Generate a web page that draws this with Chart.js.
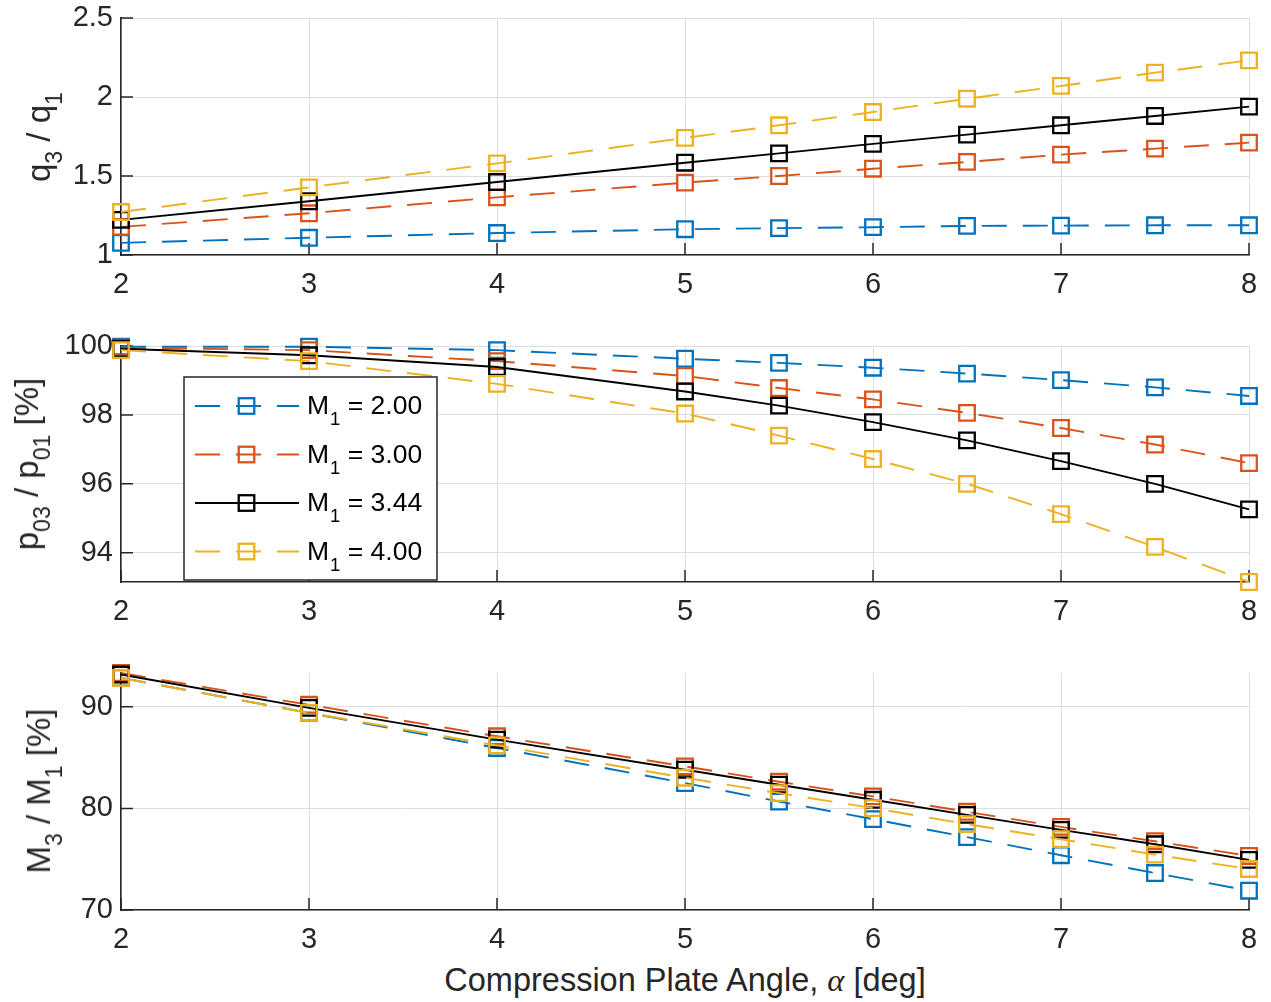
<!DOCTYPE html>
<html>
<head>
<meta charset="utf-8">
<script src="https://cdn.jsdelivr.net/npm/chart.js@4.4.1/dist/chart.umd.min.js"></script>
<style>
  body { margin: 0; background: #fff; }
  #fig { position: relative; width: 1271px; height: 1002px; overflow: hidden;
         font-family: "Liberation Sans", Arial, sans-serif; color: #262626; }
  canvas { position: absolute; left: 0; }
  .ylabel { position: absolute; white-space: nowrap; font-size: 33px; line-height: 38px;
            transform: translate(-50%, -50%) rotate(-90deg); }
  .xlabel { position: absolute; white-space: nowrap; font-size: 32.5px; line-height: 38px;
            transform: translateX(-50%); }
  sub { font-size: 0.7em; vertical-align: baseline; position: relative; top: 0.5em; line-height: 0; }
  .alpha { font-family: "Liberation Serif", "DejaVu Serif", serif; font-style: italic; }
</style>
</head>
<body>
<div id="fig">
  <canvas id="c1" width="1271" height="320" style="top:0"></canvas>
  <canvas id="c2" width="1271" height="330" style="top:320px"></canvas>
  <canvas id="c3" width="1271" height="310" style="top:650px"></canvas>
  <div class="ylabel" style="left:39px; top:137px">q<sub>3</sub> / q<sub>1</sub></div>
  <div class="ylabel" style="left:27px; top:464px">p<sub>03</sub> / p<sub>01</sub> [%]</div>
  <div class="ylabel" style="left:39px; top:791px">M<sub>3</sub> / M<sub>1</sub> [%]</div>
  <div class="xlabel" style="left:685px; top:961px">Compression Plate Angle, <span class="alpha">α</span> [deg]</div>
</div>
<script>
// plate angle (deg)
const angle = [2, 3, 4, 5, 5.5, 6, 6.5, 7, 7.5, 8];
const machLabels = ['2.00', '3.00', '3.44', '4.00'];

// q3 / q1
const qM200 = [1.077, 1.109, 1.139, 1.163, 1.170, 1.176, 1.184, 1.186, 1.188, 1.188];
const qM300 = [1.178, 1.264, 1.365, 1.458, 1.500, 1.546, 1.589, 1.635, 1.673, 1.711];
const qM344 = [1.222, 1.340, 1.462, 1.584, 1.643, 1.703, 1.762, 1.821, 1.880, 1.939];
const qM400 = [1.272, 1.428, 1.580, 1.741, 1.821, 1.905, 1.989, 2.070, 2.154, 2.232];

// p03 / p01 [%]
const pM200 = [99.98, 99.98, 99.88, 99.63, 99.51, 99.37, 99.20, 99.01, 98.80, 98.55];
const pM300 = [99.95, 99.88, 99.56, 99.13, 98.78, 98.45, 98.06, 97.62, 97.14, 96.60];
const pM344 = [99.92, 99.73, 99.39, 98.68, 98.27, 97.79, 97.26, 96.66, 96.00, 95.26];
const pM400 = [99.88, 99.56, 98.90, 98.04, 97.40, 96.72, 96.00, 95.12, 94.17, 93.15];

// M3 / M1 [%]
const mM200 = [92.85, 89.40, 85.95, 82.50, 80.68, 78.94, 77.17, 75.39, 73.64, 71.90];
const mM300 = [93.33, 90.20, 87.10, 84.14, 82.63, 81.18, 79.67, 78.18, 76.77, 75.32];
const mM344 = [93.18, 89.90, 86.77, 83.81, 82.33, 80.85, 79.37, 77.89, 76.47, 74.93];
const mM400 = [92.84, 89.40, 86.20, 83.02, 81.50, 80.03, 78.45, 76.97, 75.45, 74.04];

// tick labels
const xTicks = [2, 3, 4, 5, 6, 7, 8];
const qTicks = [1, 1.5, 2, 2.5];
const pTicks = [94, 96, 98, 100];
const mTicks = [70, 80, 90];

const colors = ['#0072BD', '#D95319', '#000000', '#EDB120'];
const dashes = [[25, 16], [25, 16], [], [25, 16]];
const fontFam = '"Liberation Sans", Arial, sans-serif';
const axisColor = '#262626';

const makeDatasets = (series) => series.map((vals, i) => ({
    label: 'M1 = ' + machLabels[i],
    data: angle.map((a, k) => ({ x: a, y: vals[k] })),
    borderColor: colors[i],
    borderWidth: 1.9,
    borderDash: dashes[i],
    pointStyle: 'rect',
    pointRadius: 11,
    pointBorderWidth: 2.3,
    pointBorderColor: colors[i],
    pointBackgroundColor: 'rgba(0,0,0,0)',
    tension: 0,
    fill: false,
    clip: false,
    order: 3 - i
}))

// matlab style tick marks pointing into the plot
const innerTicks = {
    id: 'innerTicks',
    beforeDatasetsDraw(chart) {
        const { ctx, chartArea: a, scales: { x, y } } = chart;
        ctx.save();
        ctx.strokeStyle = axisColor;
        ctx.lineWidth = 1.5;
        ctx.beginPath();
        x.ticks.forEach(t => {
            const px = x.getPixelForValue(t.value);
            ctx.moveTo(px, a.bottom);
            ctx.lineTo(px, a.bottom - 12);
        });
        y.ticks.forEach(t => {
            const py = y.getPixelForValue(t.value);
            ctx.moveTo(a.left, py);
            ctx.lineTo(a.left + 12, py);
        });
        ctx.stroke();
        ctx.restore();
    }
}

// legend box with subscripts, sits inside the middle plot
const legendBox = {
    id: 'legendBox',
    afterDatasetsDraw(chart) {
        const { ctx, chartArea: a } = chart;
        const x0 = a.left + 63, y0 = a.top + 31, w = 253, h = 203, row = 48.5;
        ctx.save();
        ctx.fillStyle = '#fff';
        ctx.fillRect(x0, y0, w, h);
        ctx.strokeStyle = axisColor;
        ctx.lineWidth = 1.5;
        ctx.strokeRect(x0, y0, w, h);
        chart.data.datasets.forEach((ds, i) => {
            const cy = y0 + 29 + i * row;
            ctx.strokeStyle = ds.borderColor;
            ctx.lineWidth = ds.borderWidth;
            ctx.setLineDash(ds.borderDash);
            ctx.beginPath();
            ctx.moveTo(x0 + 11, cy);
            ctx.lineTo(x0 + 115, cy);
            ctx.stroke();
            ctx.setLineDash([]);
            const s = ds.pointRadius * Math.SQRT2;
            ctx.lineWidth = ds.pointBorderWidth;
            ctx.strokeRect(x0 + 62.5 - s / 2, cy - s / 2, s, s);

            ctx.fillStyle = '#000';
            ctx.textBaseline = 'alphabetic';
            ctx.textAlign = 'left';
            let tx = x0 + 123;
            ctx.font = '26.5px ' + fontFam;
            ctx.fillText('M', tx, cy + 8);
            tx += ctx.measureText('M').width + 1;
            ctx.font = '18.5px ' + fontFam;
            ctx.fillText('1', tx, cy + 19);
            tx += ctx.measureText('1').width;
            ctx.font = '26.5px ' + fontFam;
            ctx.fillText(' = ' + machLabels[i], tx, cy + 8);
        });
        ctx.restore();
    }
}

const makeOptions = (yMin, yMax, yTicks, padTop, xAxisH) => ({
    responsive: false,
    animation: false,
    events: [],
    layout: { padding: { top: padTop, right: 22, left: 0, bottom: 0 } },
    plugins: { legend: { display: false }, tooltip: { enabled: false } },
    scales: {
        x: {
            type: 'linear', min: 2, max: 8,
            afterBuildTicks: s => { s.ticks = xTicks.map(v => ({ value: v })); },
            afterFit: s => { s.height = xAxisH; },
            grid: { color: '#dedede', lineWidth: 1, drawTicks: false },
            border: { color: axisColor, width: 1.6 },
            ticks: { color: axisColor, font: { family: fontFam, size: 29 }, padding: 13,
                     maxRotation: 0, autoSkip: false, callback: v => String(v) }
        },
        y: {
            type: 'linear', min: yMin, max: yMax,
            afterBuildTicks: s => { s.ticks = yTicks.map(v => ({ value: v })); },
            afterFit: s => { s.width = 121; s.paddingTop = 0; s.paddingBottom = 0; },
            grid: { color: '#dedede', lineWidth: 1, drawTicks: false },
            border: { color: axisColor, width: 1.6 },
            ticks: { color: axisColor, font: { family: fontFam, size: 29 }, padding: 8,
                     autoSkip: false, callback: v => String(v) }
        }
    }
})

new Chart(document.getElementById('c1'), {
    type: 'line',
    data: { datasets: makeDatasets([qM200, qM300, qM344, qM400]) },
    options: makeOptions(1, 2.5, qTicks, 18, 65),
    plugins: [innerTicks]
})

new Chart(document.getElementById('c2'), {
    type: 'line',
    data: { datasets: makeDatasets([pM200, pM300, pM344, pM400]) },
    options: makeOptions(Math.min(...pM400), 100, pTicks, 26, 68),
    plugins: [innerTicks, legendBox]
})

new Chart(document.getElementById('c3'), {
    type: 'line',
    data: { datasets: makeDatasets([mM200, mM300, mM344, mM400]) },
    options: makeOptions(70, Math.max(...mM300), mTicks, 23, 50),
    plugins: [innerTicks]
})
</script>
</body>
</html>
